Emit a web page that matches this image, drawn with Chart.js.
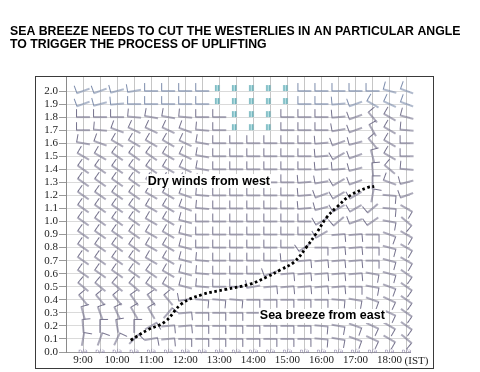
<!DOCTYPE html>
<html>
<head>
<meta charset="utf-8">
<script src="https://cdn.jsdelivr.net/npm/chart.js@4.4.1/dist/chart.umd.min.js"></script>
<style>
  html, body { margin: 0; padding: 0; background: #fff; }
</style>
</head>
<body>
<canvas id="canvas" width="480" height="372"></canvas>
<script>
const titleLines = [
  "SEA BREEZE NEEDS TO CUT THE WESTERLIES IN AN PARTICULAR ANGLE",
  "TO TRIGGER THE PROCESS OF UPLIFTING"
];

// time of day (hours, IST) of each barb column
const times = [9, 9.5, 10, 10.5, 11, 11.5, 12, 12.5, 13, 13.5, 14, 14.5, 15, 15.5, 16, 16.5, 17, 17.5, 18, 18.5];
const hourTicks = [9, 10, 11, 12, 13, 14, 15, 16, 17, 18];
const hourLabels = ["9:00", "10:00", "11:00", "12:00", "13:00", "14:00", "15:00", "16:00", "17:00", "18:00"];
const heightTicks = [0.0, 0.1, 0.2, 0.3, 0.4, 0.5, 0.6, 0.7, 0.8, 0.9, 1.0, 1.1, 1.2, 1.3, 1.4, 1.5, 1.6, 1.7, 1.8, 1.9, 2.0];

// wind direction (degrees, blowing from) per height level, null = calm
const d20 = [250, 250, 255, 260, 270, 270, 270, 270, null, null, null, null, null, 270, 270, 270, 270, 270, 285, 290];
const d19 = [250, 255, 265, 270, 270, 270, 270, 270, null, null, null, null, null, 270, 270, 265, 250, 300, 295, 290];
const d18 = [270, 270, 270, 275, 280, 280, 275, 270, 270, null, null, null, 270, 270, 270, 265, 250, 320, 300, 285];
const d17 = [270, 275, 290, 295, 295, 295, 290, 275, 270, null, null, null, 270, 270, 270, 260, 250, 330, 300, 275];
const d16 = [280, 290, 300, 300, 300, 300, 295, 280, 270, 270, 270, 270, 270, 270, 265, 250, 255, 320, 300, 270];
const d15 = [300, 300, 305, 305, 305, 300, 295, 280, 270, 270, 270, 270, 270, 270, 265, 240, 250, 345, 300, 270];
const d14 = [305, 305, 305, 305, 305, 300, 295, 280, 270, 270, 270, 270, 270, 270, 265, 265, 255, 355, 310, 275];
const d13 = [305, 305, 305, 305, 305, 300, 295, 280, 270, 270, 270, 270, 270, 265, 260, 240, 250, 0, 290, 255];
const d12 = [305, 305, 305, 305, 300, 300, 290, 275, 270, 270, 270, 270, 270, 265, 250, 240, 240, 10, 95, 250];
const d11 = [305, 305, 305, 305, 300, 300, 290, 275, 270, 270, 270, 270, 270, 265, 255, 240, 240, 230, 95, 120];
const d10 = [305, 305, 305, 305, 300, 300, 285, 270, 270, 270, 270, 270, 270, 270, 240, 230, 250, 235, 100, 130];
const d09 = [305, 305, 305, 305, 300, 300, 285, 270, 270, 270, 270, 270, 270, 270, 240, 85, 85, 90, 110, 120];
const d08 = [305, 305, 305, 305, 300, 300, 285, 270, 270, 270, 270, 270, 270, 235, 90, 85, 85, 90, 105, 120];
const d07 = [305, 305, 305, 305, 300, 300, 285, 275, 270, 270, 270, 270, 265, 85, 85, 85, 85, 90, 105, 120];
const d06 = [305, 305, 305, 305, 305, 300, 285, 275, 270, 270, 270, 250, 85, 85, 85, 85, 85, 100, 105, 125];
const d05 = [310, 310, 310, 310, 305, 300, 285, 275, 270, 270, 260, 85, 85, 85, 85, 85, 90, 100, 110, 125];
const d04 = [320, 320, 320, 325, 325, 320, 260, 95, 95, 95, 90, 90, 90, 90, 90, 95, 100, 110, 115, 125];
const d03 = [345, 340, 335, 330, 330, 40, 85, 90, 90, 90, 90, 90, 90, 90, 90, 95, 100, 110, 115, 125];
const d02 = [355, 0, 350, 0, 60, 85, 85, 90, 90, 90, 90, 90, 90, 90, 95, 100, 110, 115, 120, 125];
const d01 = [10, 20, 25, 45, 80, 85, 90, 90, 90, 90, 90, 90, 90, 90, 95, 100, 110, 115, 120, 130];

const levels = [2.0, 1.9, 1.8, 1.7, 1.6, 1.5, 1.4, 1.3, 1.2, 1.1, 1.0, 0.9, 0.8, 0.7, 0.6, 0.5, 0.4, 0.3, 0.2, 0.1];
const levelDirs = [d20, d19, d18, d17, d16, d15, d14, d13, d12, d11, d10, d09, d08, d07, d06, d05, d04, d03, d02, d01];

// sea breeze front (dotted line)
const frontTime = [10.4, 10.9, 11.4, 11.9, 12.5, 13.2, 13.9, 14.4, 14.8, 15.2, 15.55, 15.85, 16.15, 16.45, 16.85, 17.35, 17.55];
const frontHeight = [0.09, 0.17, 0.23, 0.37, 0.44, 0.48, 0.52, 0.575, 0.63, 0.69, 0.80, 0.91, 1.03, 1.11, 1.20, 1.26, 1.27];

// barb image: staff centred on the point, pointing north, one full barb at the tip
const makeBarb = (color) => {
  const c = document.createElement("canvas");
  c.width = 34;
  c.height = 34;
  const g = c.getContext("2d");
  const m = 17, L = 13, B = 7.5;
  g.strokeStyle = color;
  g.lineWidth = 1.2;
  g.lineCap = "round";
  g.lineJoin = "round";
  g.beginPath();
  g.moveTo(m, m + L / 2);
  g.lineTo(m, m - L / 2);
  g.lineTo(m + B, m - L / 2);
  g.stroke();
  return c;
};

const makeCalm = () => {
  const c = document.createElement("canvas");
  c.width = 18;
  c.height = 18;
  const g = c.getContext("2d");
  g.fillStyle = "rgba(150, 210, 215, 0.6)";
  g.fillRect(5, 3, 4, 6);
  g.strokeStyle = "#4fa3ae";
  g.lineWidth = 1.2;
  g.beginPath();
  g.moveTo(5.5, 3); g.lineTo(5.5, 9);
  g.moveTo(8.5, 3); g.lineTo(8.5, 9);
  g.stroke();
  return c;
};

const barbGrey = makeBarb("#74718c");
const barbBlue = makeBarb("#7b8bab");
const calmMark = makeCalm();

const datasets = [];

datasets.push({
  type: "line",
  data: frontTime.map((t, i) => ({ x: t, y: frontHeight[i] })),
  borderColor: "#000",
  borderWidth: 2.8,
  borderDash: [2.6, 2.6],
  borderCapStyle: "butt",
  pointRadius: 0,
  tension: 0.4,
  fill: false,
  clip: false
});

const calmPoints = [];
levels.forEach((h, r) => {
  const dirs = levelDirs[r];
  const pts = [];
  const rot = [];
  dirs.forEach((d, i) => {
    if (d === null) {
      calmPoints.push({ x: times[i], y: h });
    } else {
      pts.push({ x: times[i], y: h });
      rot.push(d);
    }
  });
  datasets.push({
    type: "scatter",
    data: pts,
    pointStyle: h >= 1.9 ? barbBlue : barbGrey,
    pointRotation: rot,
    pointRadius: 4,
    clip: false
  });
});

datasets.push({
  type: "scatter",
  data: calmPoints,
  pointStyle: calmMark,
  pointRadius: 4,
  clip: false
});

const decor = {
  id: "decor",
  beforeDraw(chart) {
    const ctx = chart.ctx;
    ctx.save();
    ctx.fillStyle = "#fff";
    ctx.fillRect(0, 0, chart.width, chart.height);
    ctx.restore();
  },
  afterDatasetsDraw(chart) {
    const ctx = chart.ctx;
    const xs = chart.scales.x, ys = chart.scales.y;
    ctx.save();
    // n/a labels along the ground level
    ctx.font = "6px 'DejaVu Sans', sans-serif";
    ctx.fillStyle = "#8a82a6";
    ctx.textAlign = "center";
    ctx.textBaseline = "middle";
    times.forEach(t => ctx.fillText("n/a", xs.getPixelForValue(t), ys.getPixelForValue(0) - 1));

    // annotations
    ctx.font = "bold 12.5px 'Liberation Sans', Arial, sans-serif";
    ctx.textAlign = "left";
    ctx.textBaseline = "middle";
    const note = (text, x, y) => {
      const px = xs.getPixelForValue(x), py = ys.getPixelForValue(y);
      const w = ctx.measureText(text).width;
      ctx.fillStyle = "#fff";
      ctx.fillRect(px - 1, py - 7, w + 2, 14);
      ctx.fillStyle = "#000";
      ctx.fillText(text, px, py);
    };
    note("Dry winds from west", 10.9, 1.31);
    note("Sea breeze from east", 14.19, 0.276);
    ctx.restore();
  },
  afterDraw(chart) {
    const ctx = chart.ctx;
    const xs = chart.scales.x, ys = chart.scales.y;
    ctx.save();
    ctx.fillStyle = "#000";
    ctx.font = "bold 12.3px 'Liberation Sans', Arial, sans-serif";
    ctx.textAlign = "left";
    ctx.textBaseline = "alphabetic";
    ctx.fillText(titleLines[0], 10, 34.5);
    ctx.fillText(titleLines[1], 10, 47.5);

    ctx.font = "11px 'Liberation Serif', 'Times New Roman', serif";
    ctx.fillStyle = "#222";
    ctx.textBaseline = "middle";
    ctx.fillText("(IST)", xs.getPixelForValue(18) + 15, ys.bottom + 9);

    ctx.strokeStyle = "#3a3a3a";
    ctx.lineWidth = 1;
    ctx.strokeRect(35.5, 76.5, 398, 292);
    ctx.restore();
  }
};

const chart = new Chart(document.getElementById("canvas").getContext("2d"), {
  data: { datasets: datasets },
  options: {
    responsive: false,
    animation: false,
    events: [],
    devicePixelRatio: 1,
    layout: { padding: { top: 76, right: 70, bottom: 3, left: 0 } },
    plugins: {
      legend: { display: false },
      tooltip: { enabled: false },
      title: { display: false }
    },
    scales: {
      x: {
        type: "linear",
        min: 8.5,
        max: 18.6,
        afterBuildTicks: s => { s.ticks = times.map(v => ({ value: v })); },
        afterFit: s => { s.height = 17; },
        ticks: {
          autoSkip: false,
          maxRotation: 0,
          padding: 2,
          color: "#222",
          font: { family: "'Liberation Serif', 'Times New Roman', serif", size: 11 },
          callback: v => {
            const k = hourTicks.indexOf(v);
            return k >= 0 ? hourLabels[k] : "";
          }
        },
        grid: { color: "#c6c6c6", lineWidth: 1, drawTicks: false },
        border: { display: true, color: "#9a9a9a" }
      },
      y: {
        type: "linear",
        min: 0,
        max: 2.115,
        afterBuildTicks: s => { s.ticks = heightTicks.map(v => ({ value: v })); },
        afterFit: s => { s.width = 66; },
        ticks: {
          autoSkip: false,
          padding: 1,
          color: "#222",
          font: { family: "'Liberation Serif', 'Times New Roman', serif", size: 11 },
          callback: v => v.toFixed(1)
        },
        grid: { color: "#dadada", lineWidth: 1, tickLength: 7, tickColor: "#9a9a9a" },
        border: { display: true, color: "#8a8a8a" }
      }
    }
  },
  plugins: [decor]
});
</script>
</body>
</html>
